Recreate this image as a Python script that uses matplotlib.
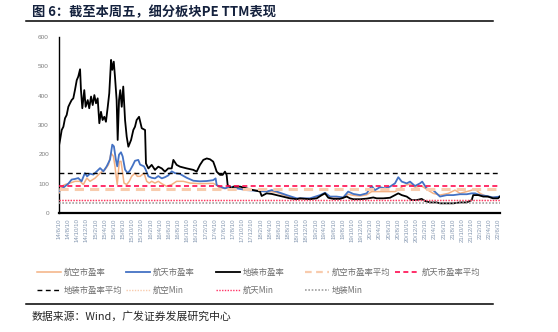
import matplotlib
matplotlib.use("Agg")
import matplotlib.pyplot as plt
from matplotlib.lines import Line2D
import pandas as pd

plt.rcParams['font.family'] = ['Noto Sans CJK SC', 'DejaVu Sans']

# ---------------- data ----------------
black_dates = ["2014-06-10","2014-06-17","2014-06-28","2014-07-09","2014-07-20","2014-07-31","2014-08-11","2014-08-22","2014-09-02","2014-09-13",
               "2014-09-24","2014-10-06","2014-10-16","2014-10-28","2014-11-03","2014-11-12","2014-11-25","2014-12-04","2014-12-18","2014-12-28",
               "2015-01-09","2015-01-20","2015-01-31","2015-02-11","2015-02-22","2015-03-05","2015-03-16","2015-03-27","2015-04-07","2015-04-18",
               "2015-04-30","2015-05-10","2015-05-22","2015-05-30","2015-06-09","2015-06-17","2015-06-28","2015-07-05","2015-07-14","2015-07-22",
               "2015-08-01","2015-08-11","2015-08-23","2015-09-03","2015-09-14","2015-10-02","2015-10-17","2015-10-28","2015-11-08","2015-11-24",
               "2015-12-12","2016-01-03","2016-01-09","2016-01-25","2016-02-16","2016-03-09","2016-03-31","2016-04-23","2016-05-14","2016-06-05",
               "2016-06-28","2016-07-09","2016-07-31","2016-08-22","2016-10-06","2016-11-19","2016-12-11","2017-01-02","2017-01-24","2017-02-16",
               "2017-03-10","2017-03-31","2017-04-12","2017-04-23","2017-05-15","2017-06-02","2017-06-17","2017-06-28","2017-07-05","2017-07-20",
               "2017-08-01","2017-08-11","2017-09-25","2017-11-08","2017-12-22","2018-02-05","2018-02-16","2018-03-21","2018-04-24","2018-05-27",
               "2018-07-10","2018-08-23","2018-10-07","2018-10-29","2019-01-03","2019-02-17","2019-03-22","2019-04-13","2019-05-05","2019-06-07",
               "2019-07-22","2019-09-04","2019-09-26","2019-10-18","2019-12-02","2020-01-15","2020-02-28","2020-03-21","2020-05-05","2020-06-18",
               "2020-07-21","2020-08-12","2020-09-04","2020-10-07","2020-11-09","2020-12-12","2021-01-14","2021-02-06","2021-03-11","2021-04-24",
               "2021-05-16","2021-06-30","2021-08-13","2021-09-26","2021-11-10","2021-12-13","2021-12-23","2022-01-26","2022-02-28","2022-03-31",
               "2022-05-03","2022-06-06","2022-06-17"]
black_pe = [230,249,283,294,323,334,362,374,385,391,
            419,453,465,490,419,357,419,362,385,357,
            397,368,402,374,391,306,345,317,328,311,
            362,408,522,488,516,465,385,249,385,419,
            362,431,317,260,226,249,283,294,317,328,
            289,283,169,152,164,147,158,152,141,152,
            152,181,164,158,152,147,141,164,181,186,
            183,175,158,141,130,130,141,130,95,90,
            78,90,90,84,78,73,58,67,65,61,
            56,50,47,50,47,50,61,67,52,48,
            48,56,50,47,47,49,53,50,50,52,
            61,67,61,56,44,44,48,41,36,36,
            33,33,33,36,36,44,61,61,56,56,
            50,50,56]

blue_dates = ["2014-06-10","2014-06-28","2014-07-20","2014-08-11","2014-09-02","2014-09-24","2014-10-16","2014-11-07","2014-11-29","2014-12-14",
              "2015-01-02","2015-01-24","2015-02-16","2015-03-10","2015-04-01","2015-04-23","2015-05-15","2015-05-30","2015-06-10","2015-06-23",
              "2015-07-02","2015-07-14","2015-07-27","2015-08-07","2015-08-23","2015-09-09","2015-09-25","2015-10-13","2015-10-28","2015-11-19",
              "2015-12-01","2015-12-27","2016-01-07","2016-01-25","2016-02-16","2016-03-09","2016-03-31","2016-04-23","2016-05-14","2016-06-05",
              "2016-06-28","2016-07-20","2016-08-22","2016-10-06","2016-11-19","2017-01-02","2017-02-16","2017-03-31","2017-04-16","2017-04-23",
              "2017-05-15","2017-06-17","2017-07-20","2017-09-03","2017-11-08","2018-01-14","2018-03-21","2018-04-24","2018-05-27","2018-08-01",
              "2018-10-07","2018-10-29","2019-01-03","2019-03-11","2019-04-13","2019-05-16","2019-06-29","2019-08-12","2019-09-14","2019-10-18",
              "2019-12-02","2020-01-15","2020-02-17","2020-03-10","2020-04-12","2020-05-16","2020-06-18","2020-07-21","2020-08-12","2020-09-04",
              "2020-10-07","2020-10-29","2020-12-01","2021-01-03","2021-01-18","2021-02-16","2021-04-01","2021-05-16","2021-06-30","2021-08-13",
              "2021-09-26","2021-11-10","2021-12-13","2022-01-04","2022-02-06","2022-03-22","2022-05-03","2022-06-17"]
blue_pe = [74,82,91,100,114,116,119,108,136,125,
           134,131,142,153,142,159,182,233,227,182,
           159,199,207,193,148,136,145,162,178,181,
           165,159,148,125,120,118,126,118,122,128,
           142,136,133,120,110,108,109,112,118,95,
           90,84,90,84,78,76,73,78,73,61,
           50,50,50,61,69,56,56,53,73,65,
           61,67,92,78,88,84,90,101,122,107,
           101,107,92,101,107,84,78,56,61,61,
           64,64,67,67,61,58,53,56]

orange_dates = ["2014-06-10","2014-06-28","2014-07-20","2014-08-22","2014-09-24","2014-10-28","2014-11-19","2014-12-12","2015-01-02","2015-02-05",
                "2015-03-10","2015-04-12","2015-05-05","2015-05-22","2015-06-07","2015-06-17","2015-07-02","2015-07-16","2015-07-27","2015-08-07",
                "2015-08-16","2015-09-03","2015-09-20","2015-10-06","2015-10-28","2015-11-12","2015-12-01","2015-12-27","2016-01-14","2016-01-31",
                "2016-02-16","2016-03-09","2016-03-31","2016-04-23","2016-05-25","2016-06-28","2016-07-31","2016-09-13","2016-10-28","2017-01-02",
                "2017-03-31","2017-04-23","2017-05-15","2017-07-20","2017-09-03","2017-11-08","2018-01-14","2018-03-21","2018-05-27","2018-08-01",
                "2018-10-07","2018-10-29","2019-01-03","2019-03-11","2019-04-13","2019-05-16","2019-06-29","2019-08-12","2019-09-14","2019-10-18",
                "2019-12-02","2020-01-15","2020-02-17","2020-04-12","2020-06-18","2020-07-21","2020-08-19","2020-09-12","2020-10-29","2020-12-01",
                "2021-01-14","2021-02-16","2021-04-01","2021-05-16","2021-07-11","2021-08-24","2021-09-26","2021-11-10","2022-01-04","2022-02-06",
                "2022-03-22","2022-05-25","2022-06-17"]
orange_pe = [68,91,97,102,108,108,97,119,108,119,
             136,148,165,204,193,159,97,176,176,136,
             102,97,108,125,136,125,125,136,108,102,
             108,102,108,100,91,97,108,108,102,100,
             101,95,84,84,86,80,78,75,70,58,
             48,47,48,58,66,55,54,52,64,60,
             58,62,73,73,73,73,81,92,99,88,
             92,81,67,61,67,78,67,73,81,67,
             56,53,54]

# averages and minimums of each sector
avg_labels = ["航空市盈率平均", "航天市盈率平均", "地装市盈率平均"]
avg_values = [82, 92, 136]
min_labels = ["航空Min", "航天Min", "地装Min"]
min_values = [46, 44, 33]

series_labels = ["航空市盈率", "航天市盈率", "地装市盈率"]

y_ticks = [0, 100, 200, 300, 400, 500, 600]
x_tick_dates = pd.date_range("2014-06-01", "2022-06-01", freq="2MS") + pd.Timedelta(days=9)

# ---------------- styles ----------------
series_styles = [
    dict(color="#F4B183", lw=1.1, ls="-"),
    dict(color="#4472C4", lw=1.3, ls="-"),
    dict(color="#000000", lw=1.3, ls="-"),
]
avg_styles = [
    dict(color="#F8CBAD", lw=2.2, ls=(0, (3, 2))),
    dict(color="#FF0A4F", lw=1.2, ls=(0, (3, 2))),
    dict(color="#000000", lw=1.0, ls=(0, (3.5, 2.5))),
]
min_styles = [
    dict(color="#F8CBAD", lw=1.0, ls=(0, (1, 1))),
    dict(color="#FF3366", lw=1.0, ls=(0, (1, 1))),
    dict(color="#A0A0A0", lw=1.2, ls=(0, (1, 1))),
]

W, H = 558, 332
fig = plt.figure(figsize=(W / 100, H / 100), dpi=100)
ax = fig.add_axes([58.7 / W, 1 - 213 / H, (500 - 58.7) / W, 176 / H])

series = [(orange_dates, orange_pe), (blue_dates, blue_pe), (black_dates, black_pe)]
for (d, v), st in zip(series, series_styles):
    ax.plot(pd.to_datetime(d), v, color=st["color"], lw=st["lw"], ls=st["ls"], zorder=3)

for val, st in zip(avg_values, avg_styles):
    ax.axhline(val, color=st["color"], lw=st["lw"], ls=st["ls"], zorder=4)
for val, st in zip(min_values, min_styles):
    ax.axhline(val, color=st["color"], lw=st["lw"], ls=st["ls"], zorder=4)

ax.set_ylim(0, 600)
ax.set_xlim(pd.Timestamp("2014-06-08"), pd.Timestamp("2022-06-19"))
ax.set_yticks(y_ticks)
ax.set_yticklabels([str(t) for t in y_ticks], fontsize=4.6, color="#7F7F7F",
                   family="Liberation Sans")
ax.set_xticks(x_tick_dates)
ax.set_xticklabels([f"{d.year % 100}/{d.month}/10" for d in x_tick_dates],
                   rotation=90, fontsize=4.4, color="#8497B0", family="Liberation Sans")
ax.tick_params(axis="both", length=0)
ax.tick_params(axis="y", pad=7)
ax.tick_params(axis="x", pad=4)
for s in ["top", "right"]:
    ax.spines[s].set_visible(False)
ax.spines["left"].set_linewidth(1.0)
ax.spines["bottom"].set_linewidth(1.6)

# ---------------- legend ----------------
labels = series_labels + avg_labels + min_labels
styles = series_styles + avg_styles + min_styles
col_x = [37, 126, 216, 305, 395]
row_y = [272, 290]
for i, (lab, st) in enumerate(zip(labels, styles)):
    r, c = divmod(i, 5)
    x0, y0 = col_x[c], row_y[r]
    fig.add_artist(Line2D([x0 / W, (x0 + 24) / W], [1 - y0 / H, 1 - y0 / H],
                          transform=fig.transFigure, color=st["color"],
                          lw=min(st["lw"], 1.6), ls=st["ls"]))
    fig.text((x0 + 27) / W, 1 - y0 / H, lab, fontsize=6, color="#6F6F6F",
             va="center", ha="left")

# ---------------- title and source ----------------
fig.text(32 / W, 1 - 12 / H, "图 6：截至本周五，细分板块PE TTM表现", fontsize=9.5,
         fontweight="bold", color="#14213D", va="center", ha="left")
fig.add_artist(Line2D([26 / W, 493 / W], [1 - 21 / H, 1 - 21 / H],
                      transform=fig.transFigure, color="black", lw=1.1))
fig.add_artist(Line2D([26 / W, 493 / W], [1 - 304 / H, 1 - 304 / H],
                      transform=fig.transFigure, color="black", lw=1.1))
fig.text(32 / W, 1 - 317 / H, "数据来源：Wind，广发证券发展研究中心", fontsize=7.8,
         color="#262626", va="center", ha="left")

fig.savefig("out.png", dpi=100, facecolor="white")
